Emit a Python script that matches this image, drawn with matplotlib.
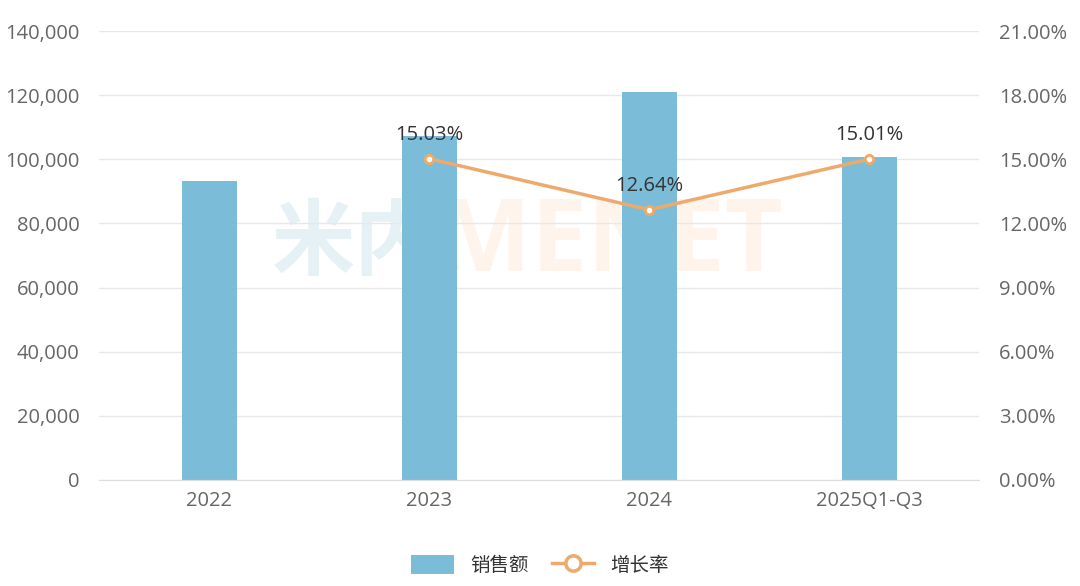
import matplotlib
matplotlib.use("Agg")
import matplotlib.pyplot as plt
from matplotlib.ticker import FuncFormatter, MultipleLocator
from matplotlib.lines import Line2D
from matplotlib.patches import Patch

plt.rcParams['font.family'] = ['Open Sans', 'Noto Sans CJK SC', 'DejaVu Sans']

categories = ['2022', '2023', '2024', '2025Q1-Q3']
sales = [93300, 107300, 120900, 100700]
growth_x = ['2023', '2024', '2025Q1-Q3']
growth = [15.03, 12.64, 15.01]

bar_color = '#7bbdd9'
line_color = '#eeaa6c'
tick_color = '#666666'

fig = plt.figure(figsize=(10.8, 5.86), dpi=100)
ax = fig.add_axes([0.0917, 0.181, 0.815, 0.766])
ax2 = ax.twinx()
ax.patch.set_visible(False)
ax2.patch.set_visible(False)

x = list(range(len(categories)))
ax.bar(x, sales, width=0.25, color=bar_color, zorder=2)
ax.set_xlim(-0.5, len(categories) - 0.5)
ax.set_ylim(0, 140000)
ax.yaxis.set_major_locator(MultipleLocator(20000))
ax.yaxis.set_major_formatter(FuncFormatter(lambda v, p: f'{int(v):,}'))
ax.set_xticks(x)
ax.set_xticklabels(categories)
ax.grid(axis='y', color='#e8e8e8', lw=1, zorder=0)
ax.set_axisbelow(True)

gx = [categories.index(c) for c in growth_x]
ax2.plot(gx, growth, color=line_color, lw=2.5, marker='o', ms=6,
         mfc='white', mec=line_color, mew=2, zorder=5)
for xi, g in zip(gx, growth):
    ax2.annotate(f'{g:.2f}%', (xi, g), xytext=(0, 10), textcoords='offset points',
                 ha='center', va='bottom', fontsize=14.5, color='#333333')
ax2.set_ylim(0, 21)
ax2.yaxis.set_major_locator(MultipleLocator(3))
ax2.yaxis.set_major_formatter(FuncFormatter(lambda v, p: f'{v:.2f}%'))

for a in (ax, ax2):
    for s in a.spines.values():
        s.set_visible(False)
    a.tick_params(length=0, labelsize=14.5, labelcolor=tick_color)
ax.tick_params(axis='y', pad=14)
ax2.tick_params(axis='y', pad=14)
ax.tick_params(axis='x', pad=8)
ax.spines['bottom'].set_visible(True)
ax.spines['bottom'].set_color('#dddddd')

# faint watermark behind the plot
fig.text(0.328, 0.582, '米内', fontsize=60, color='#e6f1f6',
         ha='center', va='center', fontweight='bold', zorder=-1,
         family=['Noto Sans CJK SC'])
fig.text(0.565, 0.582, 'MENET', fontsize=72, color='#fef4ec',
         ha='center', va='center', fontweight='bold', zorder=-1)

handles = [Patch(facecolor=bar_color, edgecolor='none', label='销售额'),
           Line2D([0], [0], color=line_color, lw=2.5, marker='o', ms=11,
                  mfc='white', mec=line_color, mew=2.5, label='增长率')]
fig.legend(handles=handles, loc='center', bbox_to_anchor=(0.5, 0.035), ncol=2,
           frameon=False, handlelength=2.2, handleheight=1.1,
           columnspacing=1.2, labelcolor='#333333',
           prop={'family': ['Noto Sans CJK SC'], 'size': 14})

fig.savefig('out.png', dpi=100)
